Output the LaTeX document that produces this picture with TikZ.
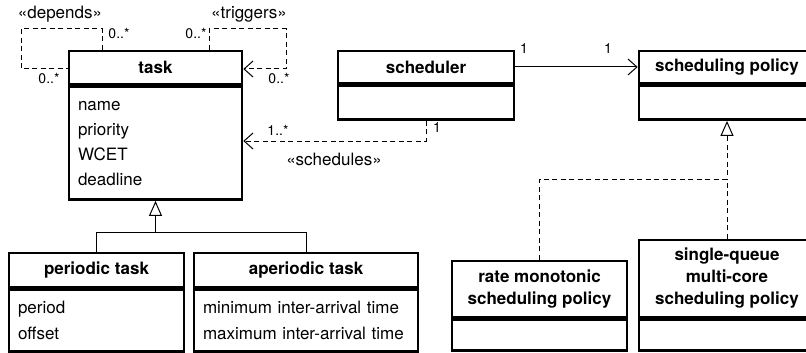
\documentclass[tikz,border=0pt]{standalone}
\usepackage{fontspec}
\setmainfont{TeX Gyre Heros}
\usetikzlibrary{arrows.meta,positioning}
\tikzset{
  classhead/.style={draw, line width=2.6pt, inner sep=0pt, align=center,
    font=\fontsize{17}{22}\selectfont\bfseries},
  classbody/.style={draw, line width=2.6pt, inner sep=0pt, inner xsep=9pt,
    anchor=north, align=left, font=\fontsize{17}{25}\selectfont},
  depline/.style={line width=1pt, dash pattern=on 5pt off 3.5pt},
  barbtip/.style={-{Straight Barb[length=9pt,width=16pt,line width=1pt]}},
  gentip/.style={-{Triangle[open,length=15pt,width=13pt,line width=1pt]}},
  plainline/.style={line width=1pt},
  multlabel/.style={font=\fontsize{14}{14}\selectfont, inner sep=0pt},
  stereolabel/.style={font=\fontsize{17}{17}\selectfont, inner sep=0pt}
}

\begin{document}
\begin{tikzpicture}[x=1pt, y=-1pt]
    \useasboundingbox (0,0) rectangle (806,353);
    % ---------------------
    \node[classhead, minimum width=173pt, minimum height=33pt] (taskhead) at (155.5,67.5) {task};
    \node[classbody, minimum width=173pt, minimum height=113pt, text width=155pt] (taskbody)
      at (taskhead.south) {name\\priority\\WCET\\deadline};
    % ---------------------
    \node[classhead, minimum width=176pt, minimum height=32pt] (schedhead) at (426,67) {scheduler};
    \node[classbody, minimum width=176pt, minimum height=34pt] (schedbody) at (schedhead.south) {};
    % ---------------------
    \node[classhead, minimum width=176pt, minimum height=32pt] (polhead) at (727,67) {scheduling policy};
    \node[classbody, minimum width=176pt, minimum height=34pt] (polbody) at (polhead.south) {};
    % ---------------------
    \node[classhead, minimum width=175pt, minimum height=34pt] (perhead) at (96.5,270) {periodic task};
    \node[classbody, minimum width=175pt, minimum height=62pt, text width=157pt,
      font=\fontsize{17}{26}\selectfont] (perbody) at (perhead.south) {period\\offset};
    \node[classhead, minimum width=224pt, minimum height=34pt] (aperhead) at (306,270) {aperiodic task};
    \node[classbody, minimum width=224pt, minimum height=62pt, text width=206pt,
      font=\fontsize{17}{26}\selectfont] (aperbody) at (aperhead.south)
      {minimum inter-arrival time\\maximum inter-arrival time};
    % ---------------------
    \node[classhead, minimum width=175pt, minimum height=56pt] (ratehead) at (539.5,289)
      {rate monotonic\\scheduling policy};
    \node[classbody, minimum width=175pt, minimum height=31pt] (ratebody) at (ratehead.south) {};
    \node[classhead, minimum width=176pt, minimum height=77pt] (singlehead) at (727,278.5)
      {single-queue\\multi-core\\scheduling policy};
    \node[classbody, minimum width=176pt, minimum height=31pt] (singlebody) at (singlehead.south) {};
    % ---------------------
    \coordinate (depstart) at (102,29);
    \coordinate (depcorner) at (21,69);
    \coordinate (trigstart) at (209,29);
    \coordinate (trigcorner) at (286,69);
    \coordinate (schedturn) at (426,141);
    \coordinate (genjoin) at (155.5,232);
    \coordinate (realjoin) at (727,179);
    % ---------------------
    \draw[depline] (taskhead.north -| depstart) -- (depstart) -| (depcorner)
      -- (depcorner -| taskhead.west);
    \draw[depline, barbtip] (taskhead.north -| trigstart) -- (trigstart) -| (trigcorner)
      -- (trigcorner -| taskhead.east);
    \draw[depline, barbtip] (schedbody.south) -- (schedturn) -- (schedturn -| taskbody.east);
    \draw[plainline, barbtip] (schedhead.east) -- (polhead.west);
    \draw[plainline, gentip] (perhead.north) |- (genjoin) -- (taskbody.south);
    \draw[plainline] (aperhead.north) |- (genjoin);
    \draw[depline, gentip] (ratehead.north) |- (realjoin) -- (polbody.south);
    \draw[depline] (singlehead.north) -- (realjoin);
    % ---------------------
    \node[stereolabel] (dependslabel) at (60,14) {«depends»};
    \node[stereolabel] (triggerslabel) at (249,14) {«triggers»};
    \node[stereolabel] (scheduleslabel) at (334,159) {«schedules»};
    \node[multlabel] (depmulta) at (119,34) {0..*};
    \node[multlabel] (depmultb) at (49,79) {0..*};
    \node[multlabel] (trigmulta) at (196,34) {0..*};
    \node[multlabel] (trigmultb) at (279,79) {0..*};
    \node[multlabel] (schedmulta) at (278,130) {1..*};
    \node[multlabel] (schedmultb) at (437,128) {1};
    \node[multlabel] (polmulta) at (524,49) {1};
    \node[multlabel] (polmultb) at (608,49) {1};
\end{tikzpicture}
\end{document}
